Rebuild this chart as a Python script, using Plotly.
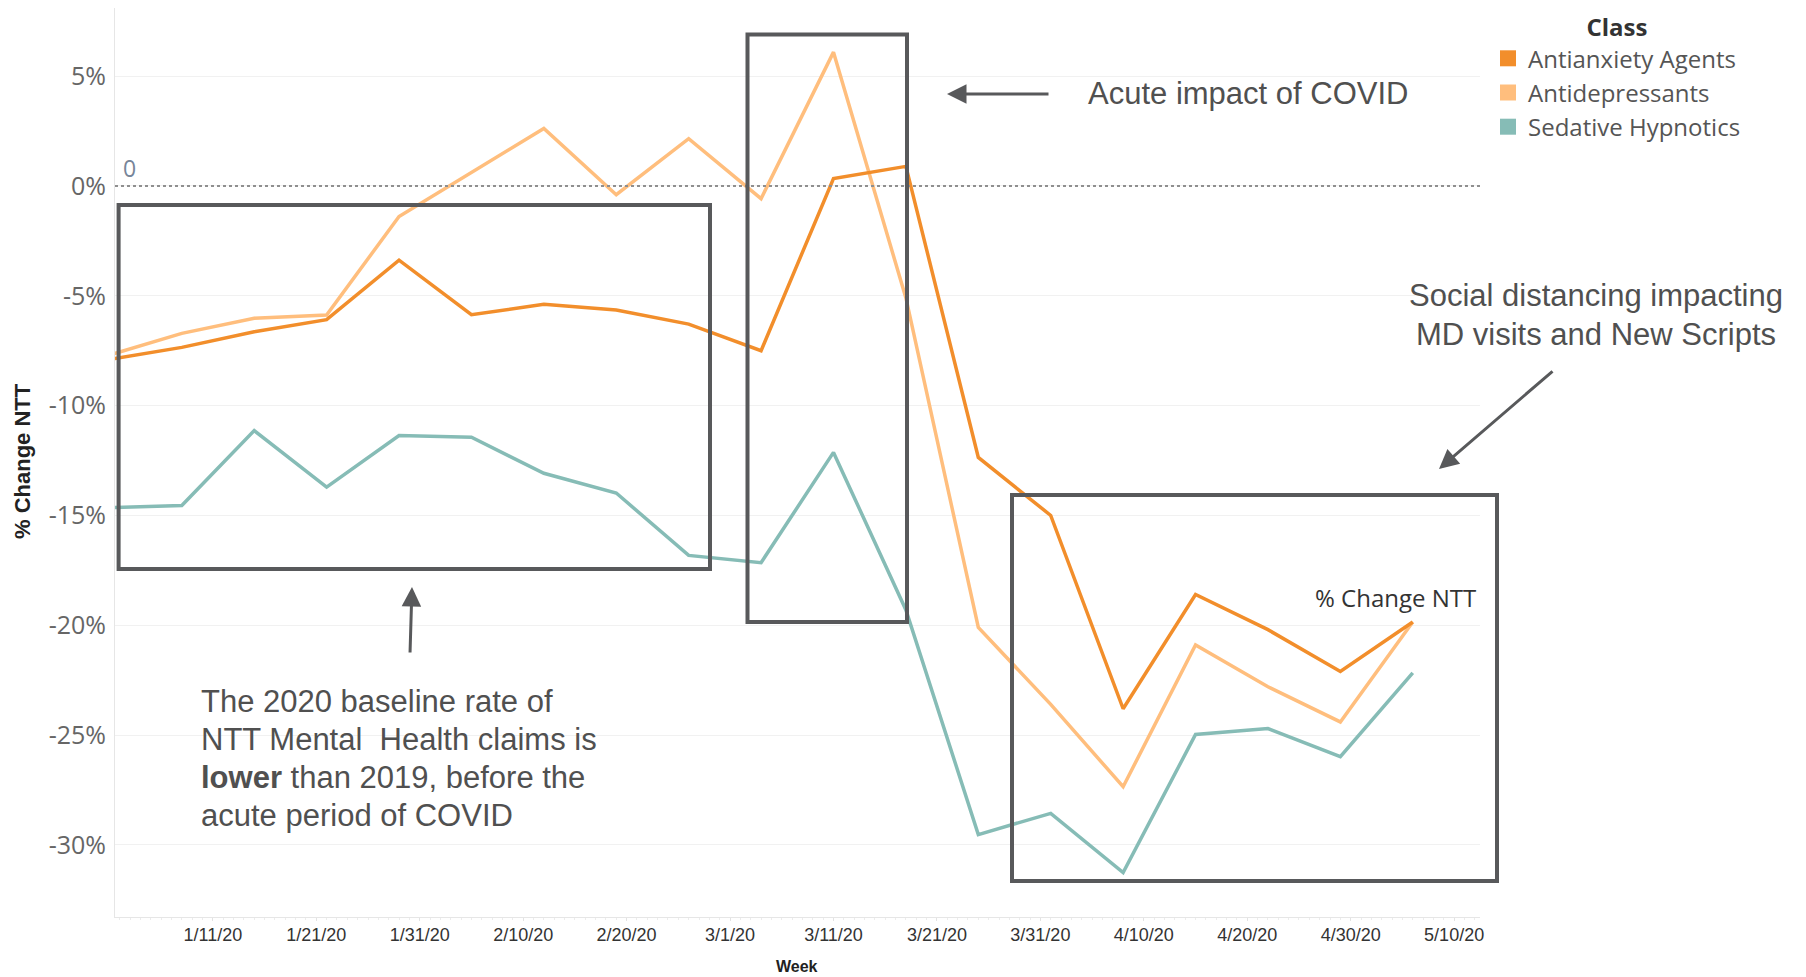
import pandas as pd
import plotly.graph_objects as go

# Weekly % change in new-to-therapy (NTT) claims vs. 2019, by drug class
weeks = pd.date_range("2020-01-01", periods=19, freq="7D")

antianxiety = [-7.9, -7.35, -6.64, -6.09, -3.38, -5.86, -5.39, -5.65, -6.29, -7.5,
               0.34, 0.89, -12.36, -15.0, -23.8, -18.6, -20.2, -22.1, -19.85]
antidepressants = [-7.7, -6.71, -6.02, -5.88, -1.39, 0.63, 2.62, -0.4, 2.15, -0.58,
                   6.09, -5.1, -20.1, -23.6, -27.35, -20.9, -22.8, -24.4, -19.85]
sedative_hypnotics = [-14.65, -14.55, -11.14, -13.71, -11.36, -11.44, -13.08, -13.98, -16.82, -17.15,
                      -12.13, -19.3, -29.53, -28.56, -31.26, -24.97, -24.7, -25.98, -22.17]

classes = ["Antianxiety Agents", "Antidepressants", "Sedative Hypnotics"]
colors = ["#F28E2B", "#FFBE7D", "#86BCB6"]

y_tick_vals = [5, 0, -5, -10, -15, -20, -25, -30]
y_tick_text = ["5%", "0%", "-5%", "-10%", "-15%", "-20%", "-25%", "-30%"]
x_tick_vals = pd.date_range("2020-01-11", periods=13, freq="10D")
x_tick_text = ["1/11/20", "1/21/20", "1/31/20", "2/10/20", "2/20/20", "3/1/20", "3/11/20",
               "3/21/20", "3/31/20", "4/10/20", "4/20/20", "4/30/20", "5/10/20"]

# Figure geometry (pixels)
FIG_W, FIG_H = 1806, 977
L, R, T, B = 115, 1480, 8, 917
PW, PH = R - L, B - T


def px(xp):
    return (xp - L) / PW


def py(yp):
    return (B - yp) / PH


SANS = "Liberation Sans, Arial, sans-serif"
BOOK = "Open Sans, sans-serif"
NOTE = "#505050"
BOXC = "#58595b"

fig = go.Figure()

series = [sedative_hypnotics, antidepressants, antianxiety]
order = [2, 1, 0]
for vals, i in zip(series, order):
    fig.add_trace(go.Scatter(x=weeks, y=vals, mode="lines", name=classes[i],
                             line=dict(color=colors[i], width=3.5), showlegend=False,
                             hoverinfo="skip"))

# Square swatches for the legend
for name, c in zip(classes, colors):
    fig.add_trace(go.Scatter(x=[None], y=[None], mode="markers", name=name,
                             marker=dict(symbol="square", size=16, color=c)))

shapes = [
    # dotted reference line at 0
    dict(type="line", xref="paper", yref="y", x0=0, x1=1, y0=0, y1=0,
         line=dict(color="#8f8f8f", width=2, dash="dot")),
]
# Callout boxes
for (x0, y0, x1, y1) in [(118.6, 205, 710, 569), (747.5, 34.5, 907, 622), (1012, 495, 1497, 881)]:
    shapes.append(dict(type="rect", xref="paper", yref="paper",
                       x0=px(x0), x1=px(x1), y0=py(y1), y1=py(y0),
                       line=dict(color=BOXC, width=4), fillcolor="rgba(0,0,0,0)"))

annotations = []


def arrow(tail, head):
    annotations.append(dict(xref="paper", yref="paper", x=px(head[0]), y=py(head[1]),
                            ax=tail[0] - head[0], ay=tail[1] - head[1], text="",
                            showarrow=True, arrowhead=2, arrowsize=1.3, arrowwidth=3,
                            arrowcolor=BOXC, standoff=0, startstandoff=0))


def note(text, xp, yp, size=31, anchor="left", color=NOTE):
    annotations.append(dict(xref="paper", yref="paper", x=px(xp), y=py(yp), text=text,
                            showarrow=False, xanchor=anchor, yanchor="middle",
                            font=dict(family=SANS, size=size, color=color)))


arrow((1050, 94), (947, 94))
arrow((410, 654), (412, 587))
arrow((1554, 370), (1439, 469))

note("Acute impact of COVID", 1086, 94)
note("Social distancing impacting", 1596, 295, anchor="center")
note("MD visits and New Scripts", 1596, 334, anchor="center")
for txt, yp in [("The 2020 baseline rate of", 701),
                ("NTT Mental  Health claims is", 739),
                ("<b>lower</b> than 2019, before the", 777),
                ("acute period of COVID", 815)]:
    note(txt, 199, yp)

# zero-line caption
annotations.append(dict(xref="paper", yref="paper", x=px(121), y=py(168), text="0",
                        showarrow=False, xanchor="left", yanchor="middle",
                        font=dict(family=BOOK, size=23, color="#778599")))
# mark label at the end of the Antianxiety line
annotations.append(dict(xref="x", yref="y", x=weeks[-1], y=antianxiety[-1], text="% Change NTT",
                        showarrow=False, xanchor="right", yanchor="middle", xshift=65, yshift=24,
                        font=dict(family=BOOK, size=24, color="#333333")))
# axis titles
annotations.append(dict(xref="paper", yref="paper", x=px(22), y=py(461), text="<b>% Change NTT</b>",
                        textangle=-90, showarrow=False, xanchor="center", yanchor="middle",
                        font=dict(family=SANS, size=22, color="#222222")))
annotations.append(dict(xref="paper", yref="paper", x=px(797), y=py(967), text="<b>Week</b>",
                        showarrow=False, xanchor="center", yanchor="middle",
                        font=dict(family=SANS, size=16, color="#222222")))

fig.update_layout(
    width=FIG_W, height=FIG_H,
    margin=dict(l=L, r=FIG_W - R, t=T, b=FIG_H - B, autoexpand=False),
    paper_bgcolor="white", plot_bgcolor="white",
    shapes=shapes, annotations=annotations,
    showlegend=True,
    legend=dict(xref="container", yref="container", x=1488 / FIG_W, y=1 - 5 / FIG_H,
                xanchor="left", yanchor="top", bgcolor="rgba(0,0,0,0)",
                title=dict(text="<b>Class</b>", side="top center",
                           font=dict(family=BOOK, size=24, color="#333333")),
                font=dict(family=BOOK, size=24, color="#555555"),
                itemclick=False, itemdoubleclick=False),
    xaxis=dict(type="date", range=["2020-01-01 13:00", "2020-05-12 12:00"],
               tickvals=x_tick_vals, ticktext=x_tick_text, showgrid=False, zeroline=False,
               showline=True, linecolor="#e6e6e6", linewidth=1,
               ticks="outside", ticklen=3, tickcolor="#e3e3e3",
               minor=dict(ticks="outside", ticklen=2, tickcolor="#ececec", dtick=86400000.0),
               ticklabelstandoff=-2,
               tickfont=dict(family=SANS, size=18, color="#333333")),
    yaxis=dict(range=[-33.28, 8.1], tickvals=y_tick_vals, ticktext=y_tick_text,
               showgrid=True, gridcolor="#f1f1f1", gridwidth=1, zeroline=False,
               showline=True, linecolor="#e6e6e6", linewidth=1, ticks="",
               ticklabelstandoff=3,
               tickfont=dict(family=BOOK, size=25, color="#666666")),
)

fig.write_html("out.html")
